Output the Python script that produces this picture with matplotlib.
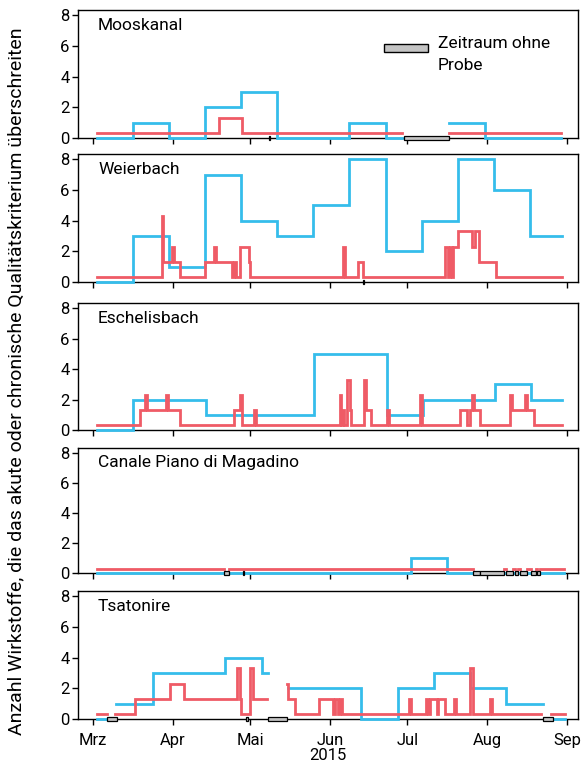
import numpy as np
import pandas as pd
import matplotlib
matplotlib.use("Agg")
import matplotlib.pyplot as plt
import matplotlib.dates as mdates
from matplotlib.patches import Rectangle

plt.rcParams['font.family'] = ['Roboto', 'DejaVu Sans']

nan = np.nan
START = "2015-03-01"   # day 0 of all day counts below

stations = ["Mooskanal", "Weierbach", "Eschelisbach", "Canale Piano di Magadino", "Tsatonire"]

# chronic criterion exceedances (blue), step edges in days since 1 March 2015
mooskanal_blue_days = [1.5, 15.5, 29.5, 43.5, 57.5, 71.5, 99.5, 113.5, 120.0, 138.0, 152.0, 181.5]
mooskanal_blue_vals = [0, 1, 0, 2, 3, 0, 1, 0, nan, 1, 0]
weierbach_blue_days = [1.5, 15.5, 29.7, 43.5, 57.5, 71.5, 85.5, 99.5, 113.8, 127.7, 141.7, 155.5, 169.5, 182.0]
weierbach_blue_vals = [0, 3, 1, 7, 4, 3, 5, 8, 2, 4, 8, 6, 3]
eschelisbach_blue_days = [1.5, 15.5, 43.8, 85.8, 114.0, 128.0, 156.0, 170.0, 182.0]
eschelisbach_blue_vals = [0, 2, 1, 5, 1, 2, 3, 2]
canale_blue_days = [1.5, 51.0, 52.8, 123.4, 137.4, 147.4, 159.6, 160.3, 162.9, 163.8, 164.7, 165.8, 168.4, 169.7, 172.0, 172.2, 173.2, 182.5]
canale_blue_vals = [0, nan, 0, 1, 0, nan, 0, nan, 0, nan, 0, nan, 0, nan, 0, nan, 0]
tsatonire_blue_days = [1.7, 5.6, 9.1, 23.4, 51.4, 65.6, 68.0, 75.6, 104.1, 118.2, 132.2, 146.4, 160.2, 174.4, 178.4, 183.0]
tsatonire_blue_vals = [0, nan, 1, 3, 4, 3, nan, 2, 0, 2, 3, 2, 1, nan, 0]

# acute criterion exceedances (red)
mooskanal_red_days = [1.5, 48.8, 58.0, 120.0, 138.0, 181.5]
mooskanal_red_vals = [0, 1, 0, nan, 0]
weierbach_red_days = [1.5, 26.9, 27.4, 30.6, 31.4, 34.0, 43.6, 46.9, 47.6, 54.0, 54.6, 55.4, 57.1, 60.4,
                      61.1, 96.9, 97.6, 102.9, 104.6, 136.6, 137.6, 138.4, 139.2, 139.8, 141.7, 147.2,
                      148.0, 149.9, 156.3, 182.0]
weierbach_red_vals = [0, 4, 1, 2, 1, 0, 1, 2, 1, 0, 1, 0, 2, 1, 0, 2, 0, 1, 0, 2, 0, 2, 0, 2, 3, 2, 3, 1, 0]
eschelisbach_red_days = [1.5, 18.5, 20.4, 21.1, 28.3, 29.0, 34.0, 54.9, 57.2, 58.0, 62.4, 63.2, 95.7, 96.4,
                         96.9, 97.5, 98.6, 99.6, 100.1, 105.0, 105.8, 108.0, 114.1, 114.9, 127.0, 127.8,
                         142.5, 145.1, 146.1, 147.0, 147.9, 150.2, 161.9, 162.6, 167.7, 168.4, 170.9, 182.0]
eschelisbach_red_vals = [0, 1, 2, 1, 2, 1, 0, 1, 2, 0, 1, 0, 2, 0, 1, 0, 3, 1, 0, 3, 1, 0, 1, 0, 2, 0,
                         1, 0, 1, 2, 1, 0, 2, 1, 2, 1, 0]
canale_red_days = canale_blue_days
canale_red_vals = [0, nan, 0, 0, 0, nan, 0, nan, 0, nan, 0, nan, 0, nan, 0, nan, 0]
tsatonire_red_days = [1.7, 5.6, 8.5, 16.3, 30.1, 35.3, 56.0, 56.9, 57.4, 61.1, 62.0, 67.6, 75.3, 75.8,
                      78.6, 87.6, 93.2, 94.1, 95.0, 95.7, 96.7, 122.5, 123.4, 129.0, 130.0, 130.9, 133.5,
                      133.9, 136.7, 139.9, 140.8, 146.4, 147.3, 154.1, 154.8, 173.7, 177.8, 183.0]
tsatonire_red_vals = [0, nan, 0, 1, 2, 1, 3, 1, 0, 3, 1, nan, 2, 1, 0, 1, 0, 1, 0, 1, 0, 1, 0, 1, 0, 1, 0,
                      1, 0, 1, 0, 3, 0, 1, 0, nan, 0]

# periods without sample (start day, end day)
mooskanal_gaps = [(120.6, 138.0), (68.4, 68.8)]
weierbach_gaps = [(104.6, 105.0)]
eschelisbach_gaps = []
canale_gaps = [(51.0, 52.8), (58.4, 58.8), (147.4, 150.3), (150.3, 159.6), (160.3, 162.9), (163.8, 164.7),
               (165.8, 168.4), (169.7, 172.0), (172.2, 173.2)]
tsatonire_gaps = [(5.6, 9.5), (59.6, 60.0), (68.0, 75.3), (174.4, 178.4)]

month_starts = ["2015-03-01", "2015-04-01", "2015-05-01", "2015-06-01", "2015-07-01", "2015-08-01", "2015-09-01"]
month_labels = ["Mrz", "Apr", "Mai", "Jun", "Jul", "Aug", "Sep"]
y_ticks = [0, 2, 4, 6, 8]

blue_days = [mooskanal_blue_days, weierbach_blue_days, eschelisbach_blue_days, canale_blue_days, tsatonire_blue_days]
blue_vals = [mooskanal_blue_vals, weierbach_blue_vals, eschelisbach_blue_vals, canale_blue_vals, tsatonire_blue_vals]
red_days = [mooskanal_red_days, weierbach_red_days, eschelisbach_red_days, canale_red_days, tsatonire_red_days]
red_vals = [mooskanal_red_vals, weierbach_red_vals, eschelisbach_red_vals, canale_red_vals, tsatonire_red_vals]
gaps = [mooskanal_gaps, weierbach_gaps, eschelisbach_gaps, canale_gaps, tsatonire_gaps]

BLUE = "#35BDEB"
RED = "#EF5B66"
RED_OFFSET = 0.3

t0 = pd.Timestamp(START)
def to_dates(days):
    return t0 + pd.to_timedelta(np.asarray(days, dtype=float), unit="D")

fig = plt.figure(figsize=(5.87, 7.74), dpi=100)
W, H = 587.0, 774.0
left, right = 78, 578
panels_px = [(10, 138), (154, 282), (303, 430), (448, 573), (591, 719)]

xmin = t0 + pd.Timedelta(days=-5.7)
xmax = t0 + pd.Timedelta(days=188.1)

FS = 12.5

axes = []
for i, (top, bot) in enumerate(panels_px):
    ax = fig.add_axes([left / W, 1 - bot / H, (right - left) / W, (bot - top) / H])
    axes.append(ax)
    # blue (chronic)
    bx = to_dates(blue_days[i])
    by = list(blue_vals[i]) + [blue_vals[i][-1]]
    ax.step(bx, by, where="post", color=BLUE, lw=2.0, clip_on=False, zorder=3, solid_joinstyle="miter")
    # red (acute), drawn slightly above
    rx = to_dates(red_days[i])
    ry = np.array(list(red_vals[i]) + [red_vals[i][-1]], dtype=float) + RED_OFFSET
    ax.step(rx, ry, where="post", color=RED, lw=2.0, clip_on=False, zorder=4, solid_joinstyle="miter")
    # gaps
    for (g0, g1) in gaps[i]:
        bars = ax.bar(to_dates([g0])[0], 0.27, width=g1 - g0, bottom=-0.16, align="edge",
                      color="#C4C4C4", edgecolor="black", linewidth=0.9, zorder=5)
        for p in bars:
            p.set_clip_on(False)
    ax.set_xlim(xmin, xmax)
    ax.set_ylim(0, 8.35)
    ax.set_yticks(y_ticks)
    ax.set_xticks(pd.to_datetime(month_starts))
    ax.tick_params(axis="y", direction="out", length=4, width=1, labelsize=12, pad=2)
    ax.tick_params(axis="x", direction="out", length=4, width=1, labelsize=12, pad=6)
    for s in ax.spines.values():
        s.set_linewidth(1.0)
    ax.text(0.04, 0.94, stations[i], transform=ax.transAxes, ha="left", va="top", fontsize=FS)
    if i < 4:
        ax.set_xticklabels([])
    else:
        ax.set_xticklabels(month_labels)
        ax.set_xlabel("2015", fontsize=12, labelpad=0)

# legend in first panel
ax0 = axes[0]
ax0.add_patch(Rectangle((0.611, 0.674), 0.088, 0.058, transform=ax0.transAxes,
                        facecolor="#C4C4C4", edgecolor="black", linewidth=1.0, zorder=6))
ax0.text(0.72, 0.80, "Zeitraum ohne\nProbe", transform=ax0.transAxes, ha="left", va="top",
         fontsize=FS, linespacing=1.6)

fig.text(0.028, 0.508, "Anzahl Wirkstoffe, die das akute oder chronische Qualitätskriterium überschreiten",
         rotation=90, ha="center", va="center", fontsize=14)

fig.savefig("out.png", dpi=100)
